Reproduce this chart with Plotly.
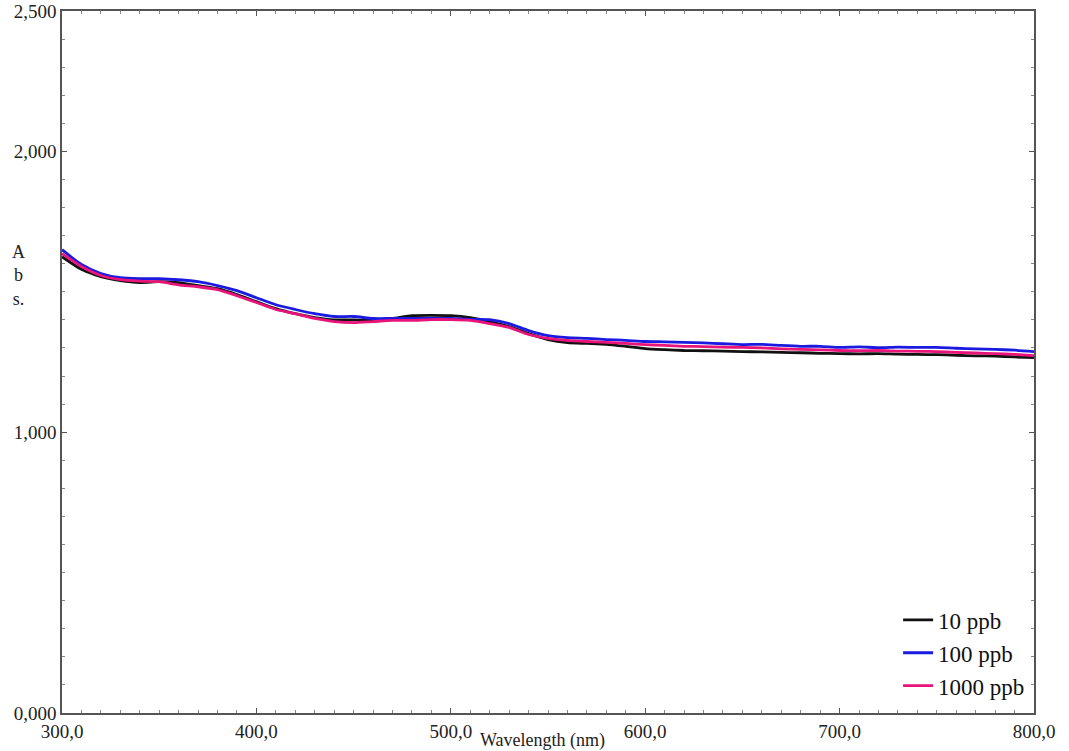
import plotly.graph_objects as go

wavelength = [300, 310, 320, 330, 340, 350, 360, 370, 380, 390, 400, 410, 420, 430, 440, 450,
              460, 470, 480, 490, 500, 510, 520, 530, 540, 550, 560, 570, 580, 590, 600, 610,
              620, 630, 640, 650, 660, 670, 680, 690, 700, 710, 720, 730, 740, 750, 760, 770,
              780, 790, 800]

abs_10ppb = [1.625, 1.580, 1.554, 1.540, 1.533, 1.536, 1.533, 1.522, 1.511, 1.490, 1.465, 1.440,
             1.422, 1.408, 1.400, 1.400, 1.398, 1.405, 1.415, 1.416, 1.415, 1.408, 1.394, 1.376,
             1.351, 1.330, 1.319, 1.316, 1.313, 1.306, 1.298, 1.294, 1.291, 1.290, 1.289, 1.287,
             1.286, 1.284, 1.283, 1.281, 1.280, 1.279, 1.280, 1.278, 1.277, 1.276, 1.274, 1.272,
             1.271, 1.268, 1.266]

abs_100ppb = [1.650, 1.597, 1.565, 1.550, 1.547, 1.547, 1.543, 1.536, 1.522, 1.504, 1.479, 1.454,
              1.437, 1.422, 1.412, 1.412, 1.405, 1.405, 1.405, 1.405, 1.405, 1.402, 1.401, 1.387,
              1.362, 1.344, 1.337, 1.334, 1.330, 1.327, 1.323, 1.322, 1.320, 1.318, 1.315, 1.312,
              1.313, 1.309, 1.306, 1.306, 1.302, 1.304, 1.301, 1.303, 1.302, 1.302, 1.299, 1.297,
              1.295, 1.292, 1.287]

abs_1000ppb = [1.636, 1.590, 1.558, 1.543, 1.538, 1.536, 1.525, 1.518, 1.508, 1.486, 1.462, 1.437,
               1.422, 1.405, 1.394, 1.390, 1.394, 1.398, 1.398, 1.401, 1.401, 1.398, 1.387, 1.373,
               1.348, 1.334, 1.327, 1.323, 1.320, 1.316, 1.312, 1.309, 1.306, 1.305, 1.303, 1.302,
               1.300, 1.297, 1.295, 1.293, 1.291, 1.290, 1.291, 1.289, 1.288, 1.287, 1.284, 1.282,
               1.280, 1.277, 1.273]

x_tickvals = [300, 400, 500, 600, 700, 800]
x_ticktext = ["300,0", "400,0", "500,0", "600,0", "700,0", "800,0"]
y_tickvals = [0, 1, 2, 2.5]
y_ticktext = ["0,000", "1,000", "2,000", "2,500"]

FONT = "Liberation Serif"

fig = go.Figure()
for name, ys, color in [("10 ppb", abs_10ppb, "#111111"),
                        ("100 ppb", abs_100ppb, "#1a1ae0"),
                        ("1000 ppb", abs_1000ppb, "#e8147a")]:
    fig.add_trace(go.Scatter(x=wavelength, y=ys, mode="lines", name=name,
                             line=dict(color=color, width=2.8, shape="spline", smoothing=0.6)))

axis_common = dict(showline=True, linecolor="#555555", linewidth=1.5, mirror="allticks",
                   ticks="inside", ticklen=5, tickcolor="#555555", showgrid=False, zeroline=False,
                   automargin=False, ticklabeloverflow="allow",
                   tickfont=dict(family=FONT, size=19, color="#222222"))

fig.update_xaxes(range=[300, 800], tickmode="array", tickvals=x_tickvals, ticktext=x_ticktext,
                 minor=dict(ticks="inside", dtick=10, ticklen=3, tickcolor="#888888", showgrid=False),
                 **axis_common)
fig.update_yaxes(range=[0, 2.5], tickmode="array", tickvals=y_tickvals, ticktext=y_ticktext,
                 minor=dict(ticks="inside", dtick=0.1, ticklen=3, tickcolor="#888888", showgrid=False),
                 **axis_common)

fig.add_annotation(text="Wavelength (nm)", xref="paper", yref="paper", x=0.494, y=-0.039,
                   xanchor="center", yanchor="middle", showarrow=False,
                   font=dict(family=FONT, size=18, color="#222222"))
fig.add_annotation(text="A<br>b<br>s.", xref="paper", yref="paper", x=-0.045, y=0.623,
                   xanchor="center", yanchor="middle", showarrow=False, align="center",
                   font=dict(family=FONT, size=18, color="#222222"))

fig.update_layout(
    width=1069, height=751,
    margin=dict(l=62, r=35, t=11, b=38),
    plot_bgcolor="white", paper_bgcolor="white",
    showlegend=True,
    legend=dict(x=0.996, y=0.008, xanchor="right", yanchor="bottom", bgcolor="rgba(0,0,0,0)",
                font=dict(family=FONT, size=23, color="#111111"), itemwidth=30,
                tracegroupgap=0),
)

fig.write_html("out.html")
